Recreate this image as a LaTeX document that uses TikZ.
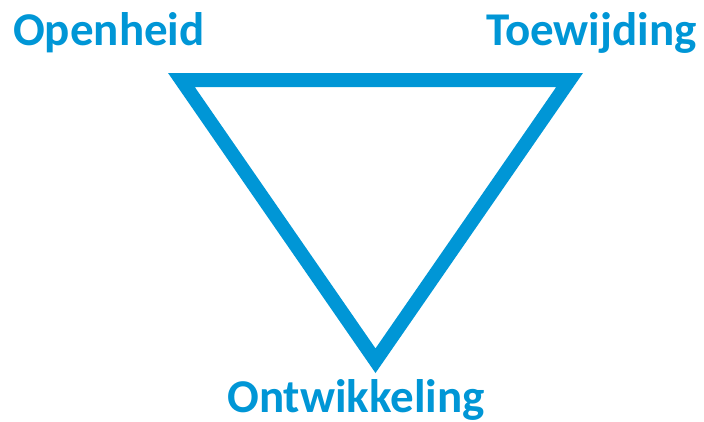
\documentclass[tikz,border=0pt]{standalone}
\usepackage{fontspec}
\setmainfont{Carlito}
\definecolor{tblue}{RGB}{0,150,214}
\begin{document}
\begin{tikzpicture}[x=1pt,y=-1pt,
  lbl/.style={inner sep=0pt,text=tblue,font=\fontsize{47}{50}\selectfont\bfseries}]
\useasboundingbox (0,0) rectangle (704,421);
\coordinate (tl) at (181.4,80);
\coordinate (tr) at (569.6,80);
\coordinate (bt) at (375.5,360.7);
\draw[tblue,line width=14pt,line join=miter] (tl) -- (tr) -- (bt) -- cycle;
\node[lbl,anchor=base west] (open) at (13,45) {Openheid};
\node[lbl,anchor=base east] (toew) at (697,45) {Toewijding};
\node[lbl,anchor=base] (ontw) at (356,412) {Ontwikkeling};
\end{tikzpicture}
\end{document}
